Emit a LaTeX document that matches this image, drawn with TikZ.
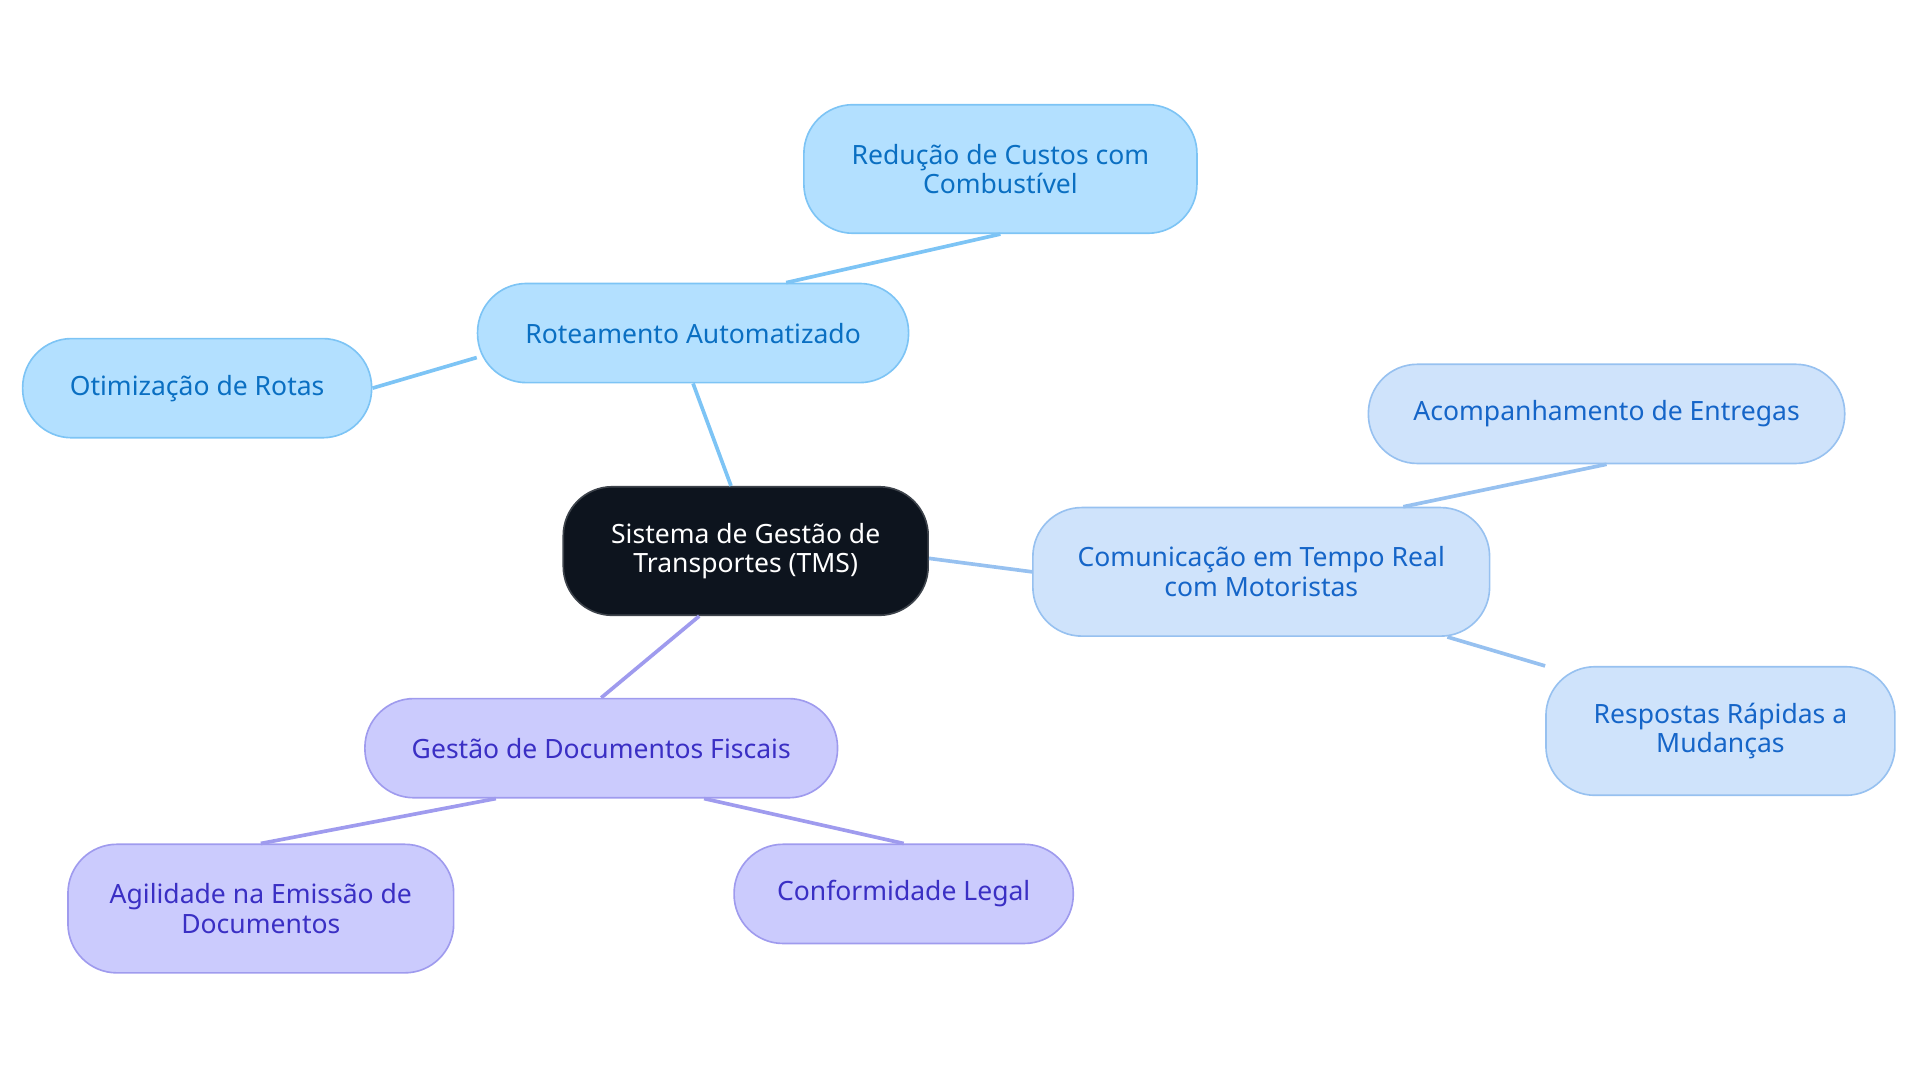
\documentclass[tikz,border=0pt]{standalone}
\usepackage{fontspec}
\setmainfont{Noto Sans}
\definecolor{cfill}{HTML}{0D141E}
\definecolor{bfill}{HTML}{B3E0FF}\definecolor{bdraw}{HTML}{7DC4F5}\definecolor{btext}{HTML}{0A6FC2}
\definecolor{lfill}{HTML}{CFE3FB}\definecolor{ldraw}{HTML}{97C1F0}\definecolor{ltext}{HTML}{1565C8}
\definecolor{pfill}{HTML}{CBCBFD}\definecolor{pdraw}{HTML}{9F9BEE}\definecolor{ptext}{HTML}{3A2FC4}
\begin{document}
\begin{tikzpicture}[x=0.6pt,y=-0.6pt,
  box/.style={rounded corners=24pt,line width=0.8pt,align=center,font=\fontsize{13}{14.5}\selectfont,inner sep=0pt},
  cen/.style={box,fill=cfill,draw=cfill!80!white,text=white},
  bl/.style={box,fill=bfill,draw=bdraw,text=btext},
  lb/.style={box,fill=lfill,draw=ldraw,text=ltext},
  pu/.style={box,fill=pfill,draw=pdraw,text=ptext},
  eb/.style={line width=1.8pt,draw=bdraw},
  el/.style={line width=1.8pt,draw=ldraw},
  ep/.style={line width=1.8pt,draw=pdraw}]
\useasboundingbox (0,0) rectangle (1568,884.5);
\node[cen,minimum width=298*0.6pt,minimum height=105*0.6pt] (c) at (609,450) {Sistema de Gestão de\\Transportes (TMS)};
\node[bl,minimum width=352*0.6pt,minimum height=81*0.6pt] (r) at (566,272) {Roteamento Automatizado};
\node[bl,minimum width=321*0.6pt,minimum height=105*0.6pt] (rc) at (817,138) {Redução de Custos com\\Combustível};
\node[bl,minimum width=285*0.6pt,minimum height=81*0.6pt] (o) at (161,317) {Otimização de Rotas};
\node[lb,minimum width=373*0.6pt,minimum height=105*0.6pt] (cm) at (1030,467) {Comunicação em Tempo Real\\com Motoristas};
\node[lb,minimum width=389*0.6pt,minimum height=81*0.6pt] (a) at (1312,338) {Acompanhamento de Entregas};
\node[lb,minimum width=285*0.6pt,minimum height=105*0.6pt] (rr) at (1405,597) {Respostas Rápidas a\\Mudanças};
\node[pu,minimum width=386*0.6pt,minimum height=81*0.6pt] (g) at (491,611) {Gestão de Documentos Fiscais};
\node[pu,minimum width=315*0.6pt,minimum height=105*0.6pt] (ag) at (213,742) {Agilidade na Emissão de\\Documentos};
\node[pu,minimum width=277*0.6pt,minimum height=81*0.6pt] (cl) at (738,730) {Conformidade Legal};
\draw[eb] (c.north)++(-12,0) -- (r.south);
\draw[eb] (r.north)++(76,0) -- (rc.south)++(-98,0);
\draw[eb] (r.west)++(0,20) -- (o.east)++(0,-16);
\draw[el] (c.east)++(0,6) -- (cm.west)++(0,-8);
\draw[el] (cm.north)++(116,0) -- (a.south)++(-89,0);
\draw[el] (cm.south)++(152,0) -- (rr.north west)++(12,6);
\draw[ep] (c.south)++(-38,0) -- (g.north)++(30,0);
\draw[ep] (g.south)++(-86,0) -- (ag.north)++(112,0);
\draw[ep] (g.south)++(84,0) -- (cl.north)++(-83,0);
\end{tikzpicture}
\end{document}
